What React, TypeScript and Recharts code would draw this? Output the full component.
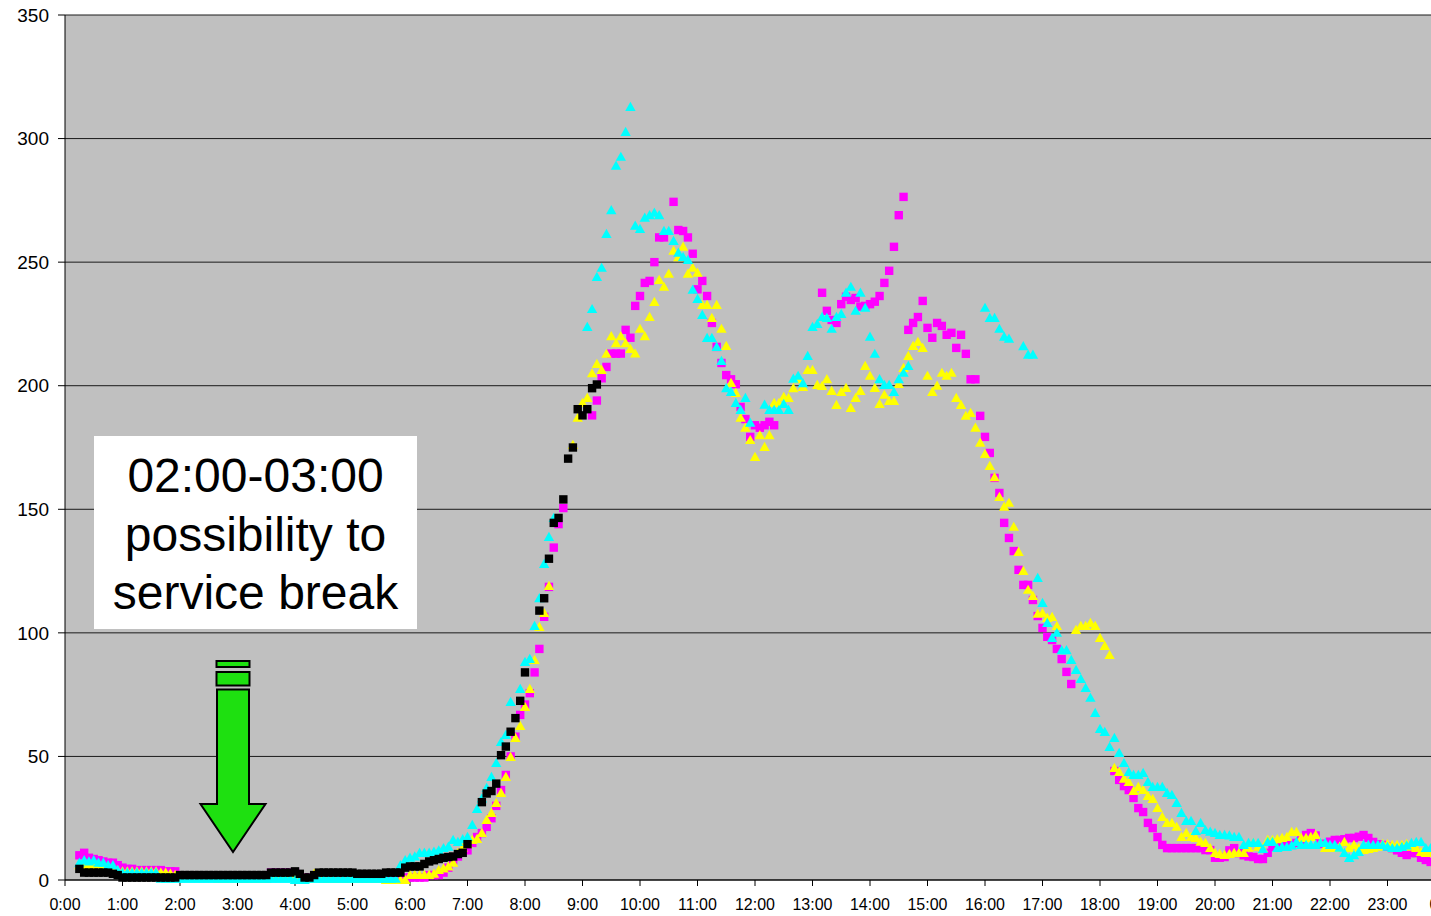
import React from 'react';
import { ScatterChart, Scatter, XAxis, YAxis, CartesianGrid } from 'recharts';

// readings every 5 minutes from 0:00, one row per hour, null = no point
const blackValues = [
  null, null, null, 4.5, 3, 3, 3, 3, 3, 3, 2.5, 2,
  1, 1, 1, 1, 1, 1, 1, 1, 1, 1, 1, 1,
  2, 2, 2, 2, 2, 2, 2, 2, 2, 2, 2, 2,
  2, 2, 2, 2, 2, 2, 2, 3, 3, 3, 3, 3,
  3.5, 2.5, 1, 1, 2, 3, 3, 3, 3, 3, 3, 3,
  3, 2.5, 2.5, 2.5, 2.5, 2.5, 2.5, 3, 3, 3, 3, 5,
  5.5, 5.5, 5.5, 6.5, 7.5, 8, 8.5, 9, 9.3, 9.5, 10.5, 11,
  14.5, null, null, 31.5, 35, 36, 39, 50.5, 54, 60, 65.5, 72.5,
  84, null, null, 109, 114, 130, 144.5, 146.5, 154, 170.5, 175, 190.5,
  188, 190.5, 199, 200.5,
];

const magentaValues = [
  null, null, null, 10, 11, 9, 8.5, 8, 7.5, 7, 7, 6,
  5, 4.5, 4.5, 4, 4, 4, 4, 4, 4, 3.5, 3.5, 3.5,
  1, 1, 1, 1, 1, 1, 1, 1, 1, 1, 1, 1,
  0.5, 0.5, 0.5, 0.5, 0.5, 0.5, 0.5, 3, 3, 3, 3, 3,
  3, 2, 1, 1, 1, 2, 2, 2, 2, 2, 2, 2,
  2, 2, 2, 2, 1.5, 1.5, 1, 1, 1, 1, 1, 1,
  1, 1, 1, 1, 2, 2, 2, 3, 5, 8, 9.5, 11,
  12, 15, 17.4, 19, 21.5, 25, 30, 36.4, 42.5, 50, 58, 66.8,
  71, 75.6, 84, 93.5, 106.5, 118.6, 134.5, 144, 150.5, null, null, null,
  null, null, 188, 194, 203, 207.6, 213, 213, 213, 222.6, 219.4, 232.3,
  236.3, 241.6, 242.4, 250, 260, 260, null, 274.4, 263, 262.6, 260, 253.4,
  239, 242.4, 236.3, 225.4, 215.7, 209.2, 204.3, 202.6, 200.6, 191.4, 186.5, 179.3,
  184, 183, 184, 185.4, 184, null, null, null, null, null, null, null,
  null, null, 237.6, 230.3, 226.6, 225.4, 233, 236, 234.7, 235.5, 232, 232.3,
  233, 234, 236.3, 241.6, 246.5, 256.2, 269, 276.4, 222.6, 225.4, 227.8, 234.3,
  223.4, 219.4, 225.4, 224.2, 220.6, 221.4, 215.3, 220.6, 212.9, 202.6, 202.6, 187.8,
  179.3, 172.8, 162.7, 156.6, 144.5, 138.4, 133.1, 125.5, 119.4, 119.4, 113.3, 106.8,
  102, 98.4, 97.1, 93.5, 89.4, 84.2, 79.3, null, null, null, null, null,
  null, null, null, 44.1, 40.5, 38, 36.4, 33.2, 29.1, 27.5, 23.1, 21,
  17.4, 14.2, 12.9, 12.9, 12.9, 12.9, 12.9, 12.9, 12.9, 12.9, 12.1, 12.1,
  9, 9, 9.3, 12, 12.9, 10.9, 10, 9.5, 9.3, 8.5, 8.5, 11,
  13.4, 15, 15, 14.2, 14.2, 15, 16, 18.2, 19, 18, 14.6, 14.6,
  15.5, 16.2, 16.2, 16.5, 17, 17, 17.5, 18.2, 17, 15.4, 14.5, 14.2,
  13.5, 12.9, 12, 11, 10.1, 10.9, 10.9, 9, 8.1, 7.3, 7, 7,
];

const cyanValues = [
  null, null, null, 7, 8, 7.5, 8, 7, 7, 6, 6, 4,
  3, 3, 3, 3, 3, 3, 3, 3, 0.5, 0.5, 0.5, 0.5,
  0.5, 0.5, 0.5, 0.5, 0.5, 0.5, 0.5, 0.5, 0.5, 0.5, 0.5, 0.5,
  0.5, 0.5, 0.5, 0.5, 0.5, 0.5, 0.5, 0.5, 0.5, 0.5, 0.5, 0.5,
  0, 0, 0, 0.5, 0.5, 0.5, 0.5, 0.5, 0.5, 0.5, 0.5, 0.5,
  0.5, 0.5, 0.5, 0.5, 0.5, 0.5, 0.5, 0.5, 0.5, 0.5, 6, 8,
  9, 9.5, 10.9, 11, 11, 11.5, 12, 12.9, 13.5, 16.2, 15.4, 16.5,
  17.4, 22.3, 28.7, 33, 37.2, 41.7, 47.3, 55.8, 58.7, 72, null, 77.3,
  88.2, 89.4, 102.8, 114, 127.9, 138.8, 146.5, null, null, null, null, null,
  null, 223.8, 231, 244, 247.7, 261.4, 271, 289, 292.6, 302.7, 312.8, 264.7,
  263.4, 268, 269, 270, 269, 262.6, 262.6, 258.6, 253.8, 252.1, 250.9, 238.8,
  235.1, 228.6, 219.3, 219.3, 215.7, 210, 199, 197.5, 193, 190.2, 195, 185,
  null, null, 192.3, 190.2, 190.2, 190.2, 192.6, 190.2, 202.8, 204, 201, 212,
  223.8, 225, 227.8, 227.4, 223, 227.8, 229, 237.6, 240, 230.3, 237.6, 231.5,
  219.8, 212.9, 202.6, 200.3, 200.3, 197.5, 202.6, 205.2, 208, null, null, null,
  null, null, null, null, null, null, null, null, null, null, null, null,
  231.5, 227.4, 227.4, 223, 219.8, 219, null, null, 216, 212.5, 212.5, 122.2,
  112.1, 104, 97.9, 100, 93, 93, 89, 85, 81.3, 77.7, 73.7, 67.6,
  61.1, 59.9, 53.8, 57.5, 51.4, 47.3, 43.7, 42.5, 42.5, 43.3, 39.7, 37.6,
  37.6, 37.6, 35.2, 34.4, 31.2, 27.1, 23.9, 23.9, 19.8, 23.1, 20.2, 19.5,
  19, 18.2, 18.2, 18, 17.4, 17.4, 14.2, 15, 15, 15, 12.5, 15.4,
  15.4, 12.9, 13.4, 13.4, 14, 15.4, 14.2, 14.2, 14.2, 14.2, 15, 15,
  14.2, 14.2, 13, 10.9, 8.9, 10, 11.3, 14.2, 14.2, 14.2, 14.2, 14.2,
  13.5, 12.9, 12.9, 13.4, 14, 15, 15.4, 15.4, 12.9, 12.9, 13, 13,
];

const yellowValues = [
  null, null, null, 6, 6, 6, 6, 5.5, 5, 5, 5, 4,
  3.5, 3.5, 3.5, 3.5, 3.5, 3.5, 3.5, 3.5, 3, 3, 2.5, 2,
  1, 1, 1, 1, 1, 1, 1, 1, 0.5, 0.5, 0.5, 0.5,
  0.5, 0.5, 0.5, 0.5, 0.5, 0.5, 0.5, 2, 2, 2, 2, 2,
  2, 1, 0.5, 0.5, 2.5, 1, 0.5, 0.5, 0.5, 0.5, 0.5, 0.5,
  0.5, 0.5, 0.5, 0.5, 0.5, 0.5, 0.5, 0, 0, 0, 0, 0,
  2, 2, 2, 2, 2, 2.5, 4, 4.7, 5.5, 7, 11, 13,
  14.6, 16.2, 16.6, 19, 24.3, 27.1, 31.2, 35.2, 41.7, 49.8, 57.5, 62.3,
  70, 77.3, 89, 102.4, 108, 119, null, null, null, null, 176, 187,
  193, 195, 205, 208.8, 206.4, 212.9, 220, 217.2, 220, 217.2, 214.9, 213,
  223, 220, 227.8, 233.9, 242.8, 240, 245.3, 254.6, 252, 256.2, 245.3, 247.7,
  245.7, 232.7, 232.7, 227.4, 232.7, 223, 216.1, 201.1, 197.1, 187, 183, 178,
  171.2, 180, 175.2, 180, 193, 193, 195.5, 195, 199, 202.6, 199.5, 206.4,
  206.4, 200.3, 199.9, 202.6, 197.9, 192.2, 197.5, 199.1, 191, 195, 197.9, 208,
  204, 199.1, 192.6, 196.3, 193.8, 193.8, 200.7, 207.2, 212, 216.1, 217.7, 215.3,
  204, 197.5, 200, 205.2, 204, 205.2, 195, 192.2, 187.8, 189, 183, 176.9,
  172.4, 167.5, 163, 155, 151, 152.6, 142.9, 132.7, 125, 117.4, 114.9, 107.7,
  108, 106, 106.4, 102.8, null, null, null, 101.2, 102.8, 102.8, 104, 102.8,
  97.9, 94.7, 91, 45.3, 43.7, 41, 39.7, 36, 37.6, 36.4, 34, 32.8,
  29.1, 25.5, 23.1, 23.1, 21.5, 17.4, 19, 17.4, 17, 15.5, 15, 12.9,
  10.9, 10.5, 10.1, 10.5, 10.9, 10.9, 10.9, 13, 15, 13.5, 12.9, 16.2,
  16.2, 16.5, 17, 17.4, 19.4, 19.4, 17, 17, 17.4, 18.2, 15, 12.9,
  12.9, 12.9, 13.5, 15.4, 12.9, 14.2, 13, 12.1, 12.5, 12.9, 13.5, 14.6,
  14.5, 14.2, 14.2, 14.2, 14.6, 13.5, 12.9, 11.3, 10.9, 10.9, 11, 11,
];

const hourTicks = Array.from({ length: 25 }, (_, i) => i * 60);
const valueTicks = [0, 50, 100, 150, 200, 250, 300, 350];
const noteLines = ['02:00-03:00', 'possibility to', 'service break'];

const FONT = "Arial, 'Liberation Sans', sans-serif";

function toPoints(values: (number | null)[]) {
  const pts: { t: number; v: number }[] = [];
  values.forEach((v, i) => {
    if (v !== null) pts.push({ t: i * 5, v });
  });
  return pts;
}

const squareShape = (fill: string) => (props: any) => {
  const { cx, cy } = props;
  return <rect x={cx - 4.2} y={cy - 4.2} width={8.4} height={8.4} fill={fill} />;
};

const triangleShape = (fill: string) => (props: any) => {
  const { cx, cy } = props;
  const d = `M${cx},${cy - 5.2} L${cx + 5.2},${cy + 4} L${cx - 5.2},${cy + 4} Z`;
  return <path d={d} fill={fill} />;
};

const GreenArrow = () => (
  <svg
    width={1431}
    height={916}
    style={{ position: 'absolute', left: 0, top: 0, pointerEvents: 'none' }}
  >
    <g fill="#1EE010" stroke="#000" strokeWidth={2} strokeLinejoin="miter">
      <rect x={216.5} y={661} width={33} height={6} />
      <rect x={216.5} y={672} width={33} height={13.5} />
      <polygon points="217,689.5 249,689.5 249,804 265.5,804 233,852 200.5,804 217,804" />
    </g>
  </svg>
);

export default function App() {
  const black = toPoints(blackValues);
  const magenta = toPoints(magentaValues);
  const cyan = toPoints(cyanValues);
  const yellow = toPoints(yellowValues);

  return (
    <div
      style={{
        position: 'absolute',
        left: 0,
        top: 0,
        width: 1431,
        height: 916,
        overflow: 'hidden',
        background: '#fff',
      }}
    >
      <ScatterChart
        width={1480}
        height={916}
        margin={{ top: 15, right: 35, left: 5, bottom: 6 }}
      >
        <CartesianGrid
          vertical={false}
          fill="#C0C0C0"
          fillOpacity={1}
          stroke="#1a1a1a"
          strokeWidth={1}
        />
        <XAxis
          type="number"
          dataKey="t"
          domain={[0, 1440]}
          ticks={hourTicks}
          interval={0}
          height={30}
          tickFormatter={(m: number) => `${(m / 60) % 24}:00`}
          tickSize={6}
          tickMargin={13}
          axisLine={{ stroke: '#000' }}
          tickLine={{ stroke: '#000' }}
          tick={{ fill: '#000', fontSize: 16, fontFamily: FONT }}
        />
        <YAxis
          type="number"
          dataKey="v"
          domain={[0, 350]}
          ticks={valueTicks}
          interval={0}
          width={60}
          tickSize={7}
          tickMargin={9}
          axisLine={{ stroke: '#000' }}
          tickLine={{ stroke: '#000' }}
          tick={{ fill: '#000', fontSize: 19, fontFamily: FONT }}
        />
        <Scatter data={magenta} shape={squareShape('#FF00FF')} isAnimationActive={false} />
        <Scatter data={yellow} shape={triangleShape('#FFFF00')} isAnimationActive={false} />
        <Scatter data={cyan} shape={triangleShape('#00FFFF')} isAnimationActive={false} />
        <Scatter data={black} shape={squareShape('#000000')} isAnimationActive={false} />
      </ScatterChart>

      <div
        style={{
          position: 'absolute',
          left: 94,
          top: 436,
          width: 323,
          height: 193,
          boxSizing: 'border-box',
          paddingTop: 11,
          background: '#fff',
          textAlign: 'center',
          fontFamily: FONT,
          fontSize: 48,
          lineHeight: '58.5px',
          color: '#000',
        }}
      >
        {noteLines.map((line) => (
          <div key={line}>{line}</div>
        ))}
      </div>

      <GreenArrow />
    </div>
  );
}
